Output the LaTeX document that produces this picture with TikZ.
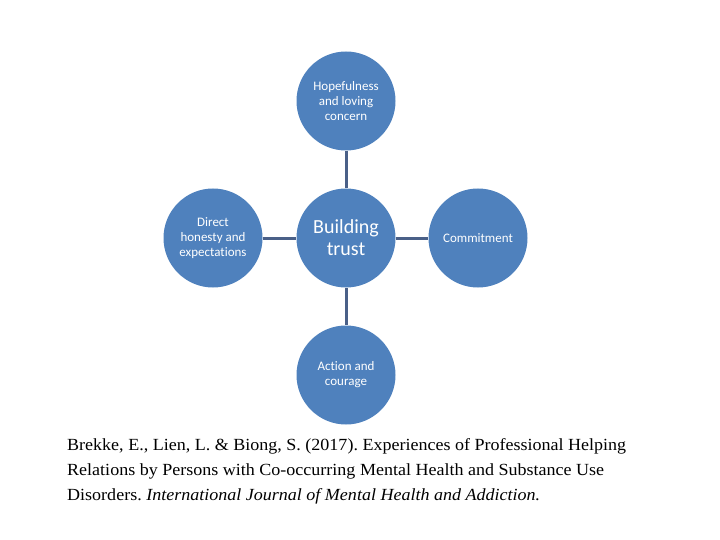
\documentclass[tikz,border=0pt]{standalone}
\usepackage{fontspec}
\setmainfont{Liberation Serif}[FakeStretch=1.06]
\newfontfamily\calib{Carlito}[Ligatures=NoCommon]
\definecolor{circblue}{HTML}{4F81BD}
\definecolor{linkcol}{HTML}{4A6088}
\frenchspacing
\begin{document}
\begin{tikzpicture}[x=1pt,y=-1pt,
  bubble/.style={circle,fill=circblue,minimum size=99pt,inner sep=0pt,text=white,align=center,font=\calib\fontsize{13}{15}\selectfont},
  link/.style={draw=linkcol,line width=3pt},
  cite/.style={anchor=base west,inner sep=0pt,font=\fontsize{17}{20}\selectfont}]
\useasboundingbox (0,0) rectangle (720,540);
\node[bubble] (top) at (346,101) {Hopefulness\\and loving\\concern};
\node[bubble,font=\calib\fontsize{20}{22}\selectfont] (mid) at (346,238) {Building\\trust};
\node[bubble] (left) at (213,238) {Direct\\honesty and\\expectations};
\node[bubble] (right) at (478,238) {Commitment};
\node[bubble] (bot) at (346,375) {Action and\\courage};
\path[link] (top) -- (mid);
\path[link] (mid) -- (bot);
\path[link] (left) -- (mid);
\path[link] (mid) -- (right);
\node[cite] (c1) at (67,450.5) {Brekke, E., Lien, L. \& Biong, S. (2017). Experiences of Professional Helping};
\node[cite] (c2) at (67,475.5) {Relations by Persons with Co-occurring Mental Health and Substance Use};
\node[cite] (c3) at (67,500) {Disorders. \textit{International Journal of Mental Health and Addiction.}};
\end{tikzpicture}
\end{document}
